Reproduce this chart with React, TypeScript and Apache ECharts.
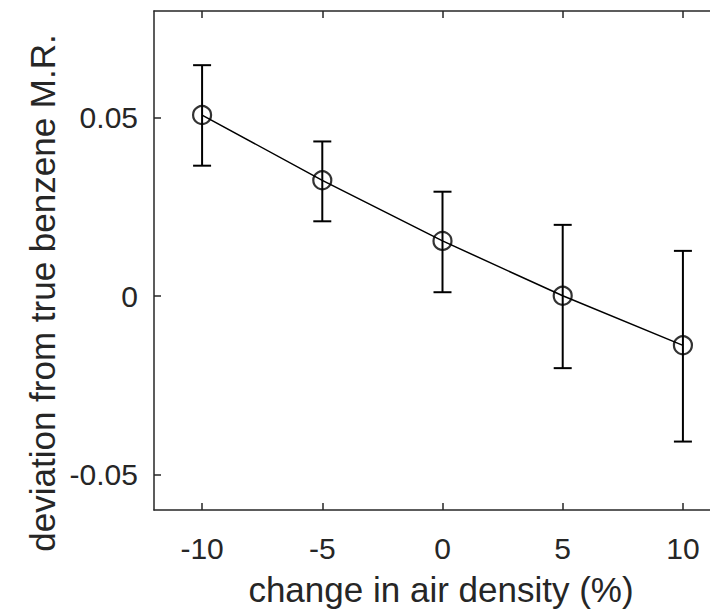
import React, { useEffect, useRef } from "react";
import * as echarts from "echarts";

const xValues = [-10, -5, 0, 5, 10];
const yValues = [0.0508, 0.0325, 0.0155, 0.0001, -0.0138];
const yUpper = [0.0648, 0.0434, 0.0293, 0.0200, 0.0127];
const yLower = [0.0366, 0.0210, 0.0011, -0.0202, -0.0408];
const xTicks = [-10, -5, 0, 5, 10];
const yTicks = [-0.05, 0, 0.05];

const INK = "#262626";
const FONT = "'Liberation Sans', Arial, Helvetica, sans-serif";

export default function App() {
  const ref = useRef<HTMLDivElement>(null);
  useEffect(() => {
    if (!ref.current) return;
    const chart = echarts.init(ref.current, undefined, { renderer: "svg" });
    const errData = xValues.map((x, i) => [x, yLower[i], yUpper[i]]);
    const axisLine = { show: true, onZero: false, lineStyle: { color: INK, width: 1.5 } };
    const tick = (vals: number[]) => ({
      show: true,
      inside: true,
      length: 7,
      customValues: vals,
      lineStyle: { color: INK, width: 1.5 },
    });
    chart.setOption({
      animation: false,
      backgroundColor: "#ffffff",
      grid: { left: 154, top: 11, width: 577, height: 499, outerBoundsMode: "none", containLabel: false },
      xAxis: [
        {
          type: "value",
          min: -12,
          max: 12,
          position: "bottom",
          axisLine,
          splitLine: { show: false },
          axisTick: tick(xTicks),
          axisLabel: {
            show: true,
            customValues: xTicks,
            margin: 23,
            fontSize: 30,
            fontFamily: FONT,
            color: INK,
            formatter: (v: number) => String(v),
          },
        },
        {
          type: "value",
          min: -12,
          max: 12,
          position: "top",
          axisLine,
          splitLine: { show: false },
          axisTick: tick(xTicks),
          axisLabel: { show: false },
        },
      ],
      yAxis: [
        {
          type: "value",
          min: -0.06,
          max: 0.08,
          position: "left",
          axisLine,
          splitLine: { show: false },
          axisTick: tick(yTicks),
          axisLabel: {
            show: true,
            customValues: yTicks,
            margin: 16,
            fontSize: 30,
            fontFamily: FONT,
            color: INK,
            formatter: (v: number) => (v === 0 ? "0" : String(v)),
          },
        },
      ],
      graphic: [
        {
          type: "text",
          x: 441,
          y: 589,
          style: {
            text: "change in air density (%)",
            font: `35px ${FONT}`,
            fill: INK,
            align: "center",
            verticalAlign: "middle",
          },
        },
        {
          type: "text",
          x: 42,
          y: 293,
          rotation: Math.PI / 2,
          style: {
            text: "deviation from true benzene M.R.",
            font: `35px ${FONT}`,
            fill: INK,
            align: "center",
            verticalAlign: "middle",
          },
        },
      ],
      series: [
        {
          type: "line",
          xAxisIndex: 0,
          data: xValues.map((x, i) => [x, yValues[i]]),
          showSymbol: false,
          symbol: "none",
          lineStyle: { color: "#000", width: 1.5 },
          z: 2,
        },
        {
          type: "custom",
          xAxisIndex: 0,
          data: errData,
          renderItem: (params: any, api: any) => {
            const x = api.value(0);
            const lo = api.coord([x, api.value(1)]);
            const hi = api.coord([x, api.value(2)]);
            const hw = 9;
            const st = { stroke: "#000", lineWidth: 2 };
            return {
              type: "group",
              children: [
                { type: "line", shape: { x1: lo[0], y1: lo[1], x2: hi[0], y2: hi[1] }, style: st },
                { type: "line", shape: { x1: hi[0] - hw, y1: hi[1], x2: hi[0] + hw, y2: hi[1] }, style: st },
                { type: "line", shape: { x1: lo[0] - hw, y1: lo[1], x2: lo[0] + hw, y2: lo[1] }, style: st },
              ],
            };
          },
          z: 3,
        },
        {
          type: "scatter",
          xAxisIndex: 0,
          data: xValues.map((x, i) => [x, yValues[i]]),
          symbol: "circle",
          symbolSize: 18,
          itemStyle: { color: "rgba(0,0,0,0)", borderColor: "#000", borderWidth: 2.2 },
          emphasis: { disabled: true },
          z: 4,
        },
      ],
    });
    return () => chart.dispose();
  }, []);
  return (
    <div
      ref={ref}
      style={{ position: "fixed", left: 0, top: 0, width: 710, height: 610 }}
    />
  );
}
